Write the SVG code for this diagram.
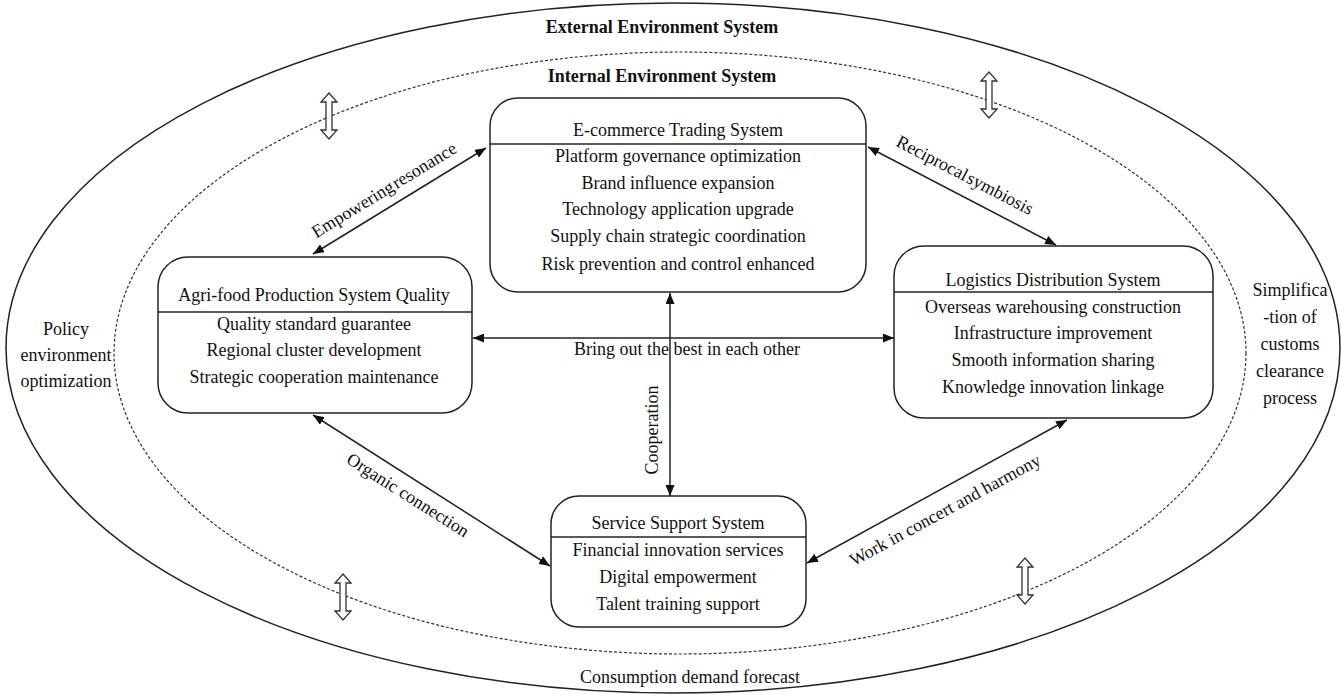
<svg xmlns="http://www.w3.org/2000/svg" xmlns:xlink="http://www.w3.org/1999/xlink" width="1341" height="695" viewBox="0 0 1341 695">
<style>
text{font-family:"Liberation Serif","Times New Roman",serif;font-size:18px;fill:#111;}
.b{font-weight:bold;}
.m{text-anchor:middle;}
.box{fill:#fff;stroke:#222;stroke-width:1.5;}
.div{stroke:#222;stroke-width:1.5;}
.conn{stroke:#222;stroke-width:1.5;fill:none;marker-start:url(#ah);marker-end:url(#ah);}
.hollow{fill:#fff;stroke:#333;stroke-width:1.3;}
</style>
<defs>
<marker id="ah" markerUnits="userSpaceOnUse" markerWidth="11" markerHeight="9" refX="11" refY="4.5" orient="auto-start-reverse" viewBox="0 0 11 9">
<path d="M0,0 L11,4.5 L0,9 z" fill="#111"/>
</marker>
<polygon id="hv" points="0,-23 8,-14 3,-14 3,14 8,14 0,23 -8,14 -3,14 -3,-14 -8,-14"/>
</defs>
<rect width="1341" height="695" fill="#fff"/>
<g id="external">
<ellipse cx="673" cy="348" rx="667" ry="345" fill="none" stroke="#222" stroke-width="1.5"/>
<text class="b m" x="662" y="33">External Environment System</text>
<text class="m" x="66" y="335">Policy</text>
<text class="m" x="66" y="361">environment</text>
<text class="m" x="66" y="387">optimization</text>
<text class="m" x="1290" y="296">Simplifica</text>
<text class="m" x="1290" y="323">-tion of</text>
<text class="m" x="1290" y="350">customs</text>
<text class="m" x="1290" y="377">clearance</text>
<text class="m" x="1290" y="404">process</text>
<text class="m" x="690" y="683">Consumption demand forecast</text>
</g>
<g id="internal">
<ellipse cx="680" cy="353" rx="566" ry="301" fill="none" stroke="#333" stroke-width="1.2" stroke-dasharray="3,2"/>
<text class="b m" x="662" y="82">Internal Environment System</text>
</g>
<g id="exchange-arrows">
<use xlink:href="#hv" href="#hv" class="hollow" transform="translate(329,116)"/>
<use xlink:href="#hv" href="#hv" class="hollow" transform="translate(989,95)"/>
<use xlink:href="#hv" href="#hv" class="hollow" transform="translate(343,597)"/>
<use xlink:href="#hv" href="#hv" class="hollow" transform="translate(1025,581)"/>
</g>
<g id="ecommerce">
<rect class="box" x="490" y="98" width="376" height="194" rx="28"/>
<line class="div" x1="490" y1="144" x2="866" y2="144"/>
<text class="m" x="678" y="136">E-commerce Trading System</text>
<text class="m" x="678" y="162">Platform governance optimization</text>
<text class="m" x="678" y="189">Brand influence expansion</text>
<text class="m" x="678" y="215">Technology application upgrade</text>
<text class="m" x="678" y="242">Supply chain strategic coordination</text>
<text class="m" x="678" y="270">Risk prevention and control enhanced</text>
</g>
<g id="agrifood">
<rect class="box" x="158" y="257" width="314" height="156" rx="30"/>
<line class="div" x1="158" y1="312" x2="472" y2="312"/>
<text class="m" x="314" y="301">Agri-food Production System Quality</text>
<text class="m" x="314" y="330">Quality standard guarantee</text>
<text class="m" x="314" y="356">Regional cluster development</text>
<text class="m" x="314" y="383">Strategic cooperation maintenance</text>
</g>
<g id="logistics">
<rect class="box" x="894" y="246" width="319" height="172" rx="30"/>
<line class="div" x1="894" y1="292" x2="1213" y2="292"/>
<text class="m" x="1053" y="286">Logistics Distribution System</text>
<text class="m" x="1053" y="313">Overseas warehousing construction</text>
<text class="m" x="1053" y="339">Infrastructure improvement</text>
<text class="m" x="1053" y="366">Smooth information sharing</text>
<text class="m" x="1053" y="393">Knowledge innovation linkage</text>
</g>
<g id="service">
<rect class="box" x="551" y="496" width="255" height="131" rx="28"/>
<line class="div" x1="551" y1="537" x2="806" y2="537"/>
<text class="m" x="678" y="529">Service Support System</text>
<text class="m" x="678" y="556">Financial innovation services</text>
<text class="m" x="678" y="583">Digital empowerment</text>
<text class="m" x="678" y="610">Talent training support</text>
</g>
<g id="connectors">
<line class="conn" x1="313" y1="254" x2="486" y2="148"/>
<line class="conn" x1="868" y1="147" x2="1056" y2="245"/>
<line class="conn" x1="473" y1="338" x2="894" y2="338"/>
<line class="conn" x1="670" y1="293" x2="670" y2="496"/>
<line class="conn" x1="313" y1="415" x2="550" y2="566"/>
<line class="conn" x1="807" y1="563" x2="1067" y2="420"/>
<text class="m" transform="translate(384,190) rotate(-31.5)" dy="6" word-spacing="-3">Empowering resonance</text>
<text class="m" transform="translate(965,175) rotate(27.4)" dy="6" word-spacing="-3">Reciprocal symbiosis</text>
<text class="m" x="687" y="355">Bring out the best in each other</text>
<text class="m" transform="translate(652,430) rotate(-90)" dy="6">Cooperation</text>
<text class="m" transform="translate(408,495) rotate(32.3)" dy="6">Organic connection</text>
<text class="m" transform="translate(945,510) rotate(-28.6)" dy="6">Work in concert and harmony</text>
</g>
</svg>
